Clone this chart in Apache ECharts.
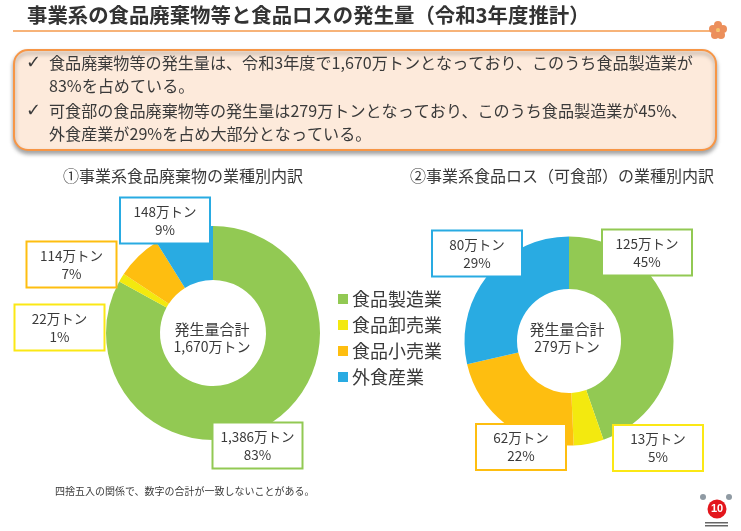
<!DOCTYPE html>
<html>
<head>
<meta charset="utf-8">
<style>html,body{margin:0;padding:0;background:#fff}#chart{width:741px;height:531px}</style>
<script src="https://cdn.jsdelivr.net/npm/echarts@6/dist/echarts.min.js"></script>
</head>
<body>
<div id="chart"></div>
<script>
var categories = ['食品製造業', '食品卸売業', '食品小売業', '外食産業'];
var wasteValues = [1386, 22, 114, 148];
var wastePercents = [83, 1, 7, 9];
var lossValues = [125, 13, 62, 80];
var lossPercents = [45, 5, 22, 29];
var wasteTotal = '1,670';
var lossTotal = '279';
var notes = [
  '食品廃棄物等の発生量は、令和3年度で1,670万トンとなっており、このうち食品製造業が',
  '83%を占めている。',
  '可食部の食品廃棄物等の発生量は279万トンとなっており、このうち食品製造業が45%、',
  '外食産業が29%を占め大部分となっている。'
];

var colors = ['#92c953', '#f3e90f', '#febe10', '#29abe2'];
var boxColors = ['#92c953', '#fbe815', '#febe10', '#29abe2'];
var font = '"Noto Sans CJK JP", sans-serif';
var textColor = '#3a3a3a';

// label box centres, same order as categories
var wasteBoxes = [[257.5, 445.5], [59.5, 327.5], [71.5, 264.5], [165, 220.5]];
var lossBoxes = [[647, 252.5], [658, 448], [521, 447], [477, 253.5]];

function formatValue(v) {
  return String(v).replace(/\B(?=(\d{3})+$)/g, ',');
}

function makePie(values, percents, boxes, center, radius) {
  return {
    type: 'pie',
    center: center,
    radius: radius,
    animation: false,
    silent: true,
    avoidLabelOverlap: false,
    minShowLabelAngle: 0,
    labelLine: { show: false },
    data: values.map(function(v, i) {
      return {
        name: categories[i],
        value: v,
        itemStyle: { color: colors[i] },
        label: {
          show: true,
          position: 'outside',
          formatter: formatValue(v) + '万トン\n' + percents[i] + '%',
          width: 88,
          height: 44,
          lineHeight: 18,
          align: 'center',
          verticalAlign: 'middle',
          fontFamily: font,
          fontSize: 13.5,
          color: textColor,
          backgroundColor: '#fff',
          borderColor: boxColors[i],
          borderWidth: 2
        }
      };
    }),
    labelLayout: function(params) {
      var b = boxes[params.dataIndex];
      return { x: b[0], y: b[1], align: 'center', verticalAlign: 'middle' };
    }
  };
}

function text(x, y, str, size, extra) {
  var style = {
    x: x,
    y: y,
    text: str,
    fontFamily: font,
    fontSize: size,
    fill: textColor,
    textVerticalAlign: 'middle'
  };
  for (var k in extra) {
    style[k] = extra[k];
  }
  return { type: 'text', z: 10, style: style };
}

var noteRows = [63, 86, 111, 134];
var graphics = [
  { type: 'line', shape: { x1: 13, y1: 31, x2: 712, y2: 31 }, style: { stroke: '#f59a4c', lineWidth: 1.5 } },
  text(27, 15, '事業系の食品廃棄物等と食品ロスの発生量（令和3年度推計）', 20.4, { fontWeight: 'bold', fill: '#333' }),
  {
    type: 'rect',
    shape: { x: 14, y: 50, width: 702, height: 100, r: 14 },
    style: {
      fill: '#fdeadb',
      stroke: '#f79646',
      lineWidth: 2,
      shadowBlur: 4,
      shadowOffsetY: 3,
      shadowColor: 'rgba(0,0,0,0.35)'
    }
  },
  text(26, noteRows[0], '✓', 18, { fontFamily: '"DejaVu Sans"' }),
  text(26, noteRows[2], '✓', 18, { fontFamily: '"DejaVu Sans"' }),
  text(183, 176, '①事業系食品廃棄物の業種別内訳', 16, { textAlign: 'center' }),
  text(562, 176, '②事業系食品ロス（可食部）の業種別内訳', 16, { textAlign: 'center' }),
  text(212, 329, '発生量合計', 15, { textAlign: 'center' }),
  text(212, 347, wasteTotal + '万トン', 14, { textAlign: 'center' }),
  text(567, 329, '発生量合計', 15, { textAlign: 'center' }),
  text(567, 347, lossTotal + '万トン', 14, { textAlign: 'center' }),
  text(55, 491, '四捨五入の関係で、数字の合計が一致しないことがある。', 10),
  // flower mark on the header line
  { type: 'circle', shape: { cx: 718, cy: 25, r: 4 }, style: { fill: '#ec8f5b' } },
  { type: 'circle', shape: { cx: 713, cy: 29, r: 4 }, style: { fill: '#ec8f5b' } },
  { type: 'circle', shape: { cx: 723, cy: 29, r: 4 }, style: { fill: '#ec8f5b' } },
  { type: 'circle', shape: { cx: 715, cy: 35, r: 4 }, style: { fill: '#ec8f5b' } },
  { type: 'circle', shape: { cx: 721, cy: 35, r: 4 }, style: { fill: '#ec8f5b' } },
  { type: 'circle', shape: { cx: 718, cy: 30, r: 2 }, style: { fill: '#f6c36a' } },
  // page number mark
  { type: 'circle', shape: { cx: 703, cy: 497, r: 3 }, style: { fill: '#8f9aa3' } },
  { type: 'circle', shape: { cx: 729, cy: 497, r: 3 }, style: { fill: '#8f9aa3' } },
  { type: 'circle', shape: { cx: 717, cy: 509, r: 9.5 }, style: { fill: '#e3161c' } },
  text(717, 509, '10', 11, { fill: '#fff', fontWeight: 'bold', textAlign: 'center', fontFamily: '"Liberation Sans"' }),
  { type: 'rect', shape: { x: 705, y: 522, width: 23, height: 1.5 }, style: { fill: '#666' } },
  { type: 'rect', shape: { x: 705, y: 525, width: 23, height: 1.5 }, style: { fill: '#666' } }
];
notes.forEach(function(row, i) {
  graphics.push(text(49, noteRows[i], row, 16.1));
});

var chart = echarts.init(document.getElementById('chart'));
chart.setOption({
  backgroundColor: '#fff',
  animation: false,
  legend: {
    orient: 'vertical',
    left: 333,
    top: 285,
    itemWidth: 10,
    itemHeight: 10,
    itemGap: 8,
    icon: 'rect',
    selectedMode: false,
    data: categories,
    textStyle: {
      fontFamily: font,
      fontSize: 18,
      color: textColor,
      padding: [0, 0, 0, -1]
    }
  },
  graphic: graphics,
  series: [
    makePie(wasteValues, wastePercents, wasteBoxes, [213, 333], [53, 107]),
    makePie(lossValues, lossPercents, lossBoxes, [569, 341], [52, 104.5])
  ]
});
</script>
</body>
</html>
